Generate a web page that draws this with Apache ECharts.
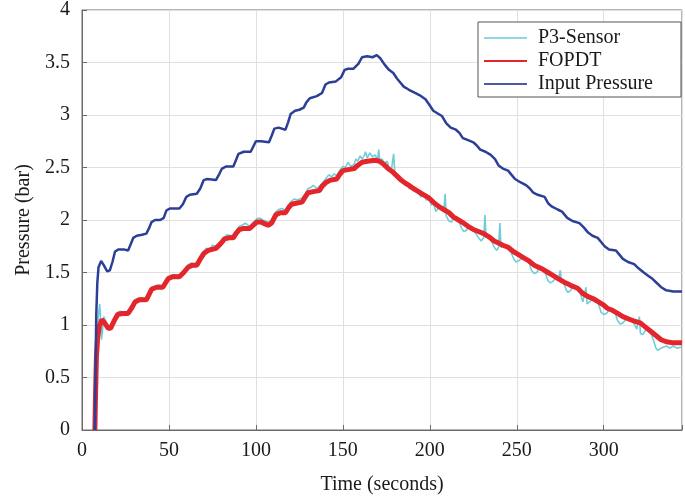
<!DOCTYPE html>
<html>
<head>
<meta charset="utf-8">
<script src="https://cdn.jsdelivr.net/npm/echarts@6/dist/echarts.min.js"></script>
<style>html,body{margin:0;padding:0;background:#fff}#c{width:685px;height:500px}</style>
</head>
<body>
<div id="c"></div>
<script>
// Time (s) / pressure (bar) readings from the reference
const inputT = [7.4,7.8,8.2,8.8,9.5,11,12.5,14.5,16,17.5,19,21,24,26.5,28,29.5,31.5,34.5,37,38.5,40,42,45,47,48.5,50.5,53,56,58,60,62,66,68,70,72,77,79,80.5,83,87,88.5,90,93,97,98.5,100,103,107.5,109,110.6,113,117,118.5,120,122.5,125,127.5,129,131,135,138,140,142,146,149,151,153,156,159,161,164,167,169.5,171.5,174,176.5,179,181,183,185,188,191.5,194,197.5,200,202,205,207,209.5,212,215,217,219,222,225,227,229,232,235,237.5,239.5,242,245,247,249,252,255.5,257.5,259.5,262,266,268,270,273.5,276,279,282,286,288.5,291,293.5,296.5,298.5,300.5,303,307,309,311,314,317.5,320,323,325.5,328,330.5,333,336,340,345];
const inputV = [0,0.6,1.1,1.4,1.55,1.61,1.57,1.51,1.52,1.6,1.70,1.72,1.72,1.71,1.77,1.83,1.85,1.86,1.87,1.92,1.98,2.0,2.0,2.02,2.09,2.11,2.11,2.11,2.15,2.22,2.24,2.25,2.30,2.38,2.39,2.38,2.44,2.49,2.51,2.51,2.57,2.63,2.65,2.65,2.70,2.75,2.75,2.74,2.80,2.87,2.88,2.86,2.93,3.01,3.04,3.05,3.07,3.12,3.16,3.18,3.21,3.29,3.31,3.32,3.36,3.43,3.44,3.44,3.49,3.55,3.56,3.55,3.57,3.54,3.48,3.43,3.40,3.35,3.31,3.27,3.24,3.21,3.19,3.15,3.09,3.04,3.01,2.99,2.92,2.88,2.86,2.83,2.78,2.76,2.74,2.71,2.67,2.65,2.62,2.58,2.52,2.49,2.47,2.43,2.39,2.36,2.33,2.30,2.26,2.24,2.22,2.16,2.13,2.10,2.08,2.02,1.99,1.97,1.93,1.88,1.85,1.83,1.79,1.75,1.72,1.71,1.67,1.63,1.60,1.58,1.54,1.50,1.47,1.44,1.40,1.36,1.33,1.32,1.32];

const fopdtT = [7.4,7.8,8.3,9,10,11.4,13,15,16.5,18.5,20.5,23,26.5,28.5,30.5,33,37,38.5,40,43,46.5,48,49.5,52,56,58.5,61,63.5,66,67.7,70,72.5,77,79.5,82,84.5,87,88.5,90.5,93,96.5,98.5,100.5,103,107,109,111.5,114,117,118.5,120.5,123,126.5,128,130,133,136.5,138,140.5,143,146.5,148,150,153,156.5,158.5,161,164,168.5,171,173.5,176,178.5,181,183.5,186,188,190.5,193.5,196.5,199.5,202,205,208,211,213.5,216.5,219.5,222,225,228,231,234,237,239.5,242,245,248,251,254,257,260,262.5,265,268,271,274,277,279.5,282,285,288,291,294,297,300,302,305,308,311,314,317,321,324,327,330,333,336,340,345];
const fopdtV = [0,0.35,0.7,0.88,0.99,1.05,1.02,0.97,0.97,1.04,1.10,1.11,1.11,1.16,1.22,1.24,1.24,1.29,1.34,1.36,1.36,1.40,1.44,1.46,1.46,1.50,1.55,1.57,1.57,1.62,1.68,1.71,1.73,1.77,1.82,1.83,1.83,1.87,1.91,1.92,1.92,1.95,1.98,1.98,1.95,1.97,2.05,2.07,2.07,2.11,2.15,2.16,2.17,2.21,2.26,2.27,2.28,2.32,2.36,2.38,2.39,2.43,2.47,2.48,2.49,2.52,2.55,2.56,2.57,2.56,2.53,2.49,2.46,2.42,2.38,2.35,2.33,2.30,2.27,2.24,2.21,2.17,2.13,2.10,2.07,2.03,2.00,1.97,1.94,1.91,1.89,1.87,1.84,1.80,1.78,1.76,1.74,1.70,1.67,1.64,1.61,1.57,1.55,1.53,1.50,1.47,1.44,1.41,1.39,1.37,1.35,1.30,1.27,1.25,1.22,1.19,1.16,1.14,1.11,1.08,1.06,1.04,1.02,0.98,0.94,0.90,0.86,0.84,0.83,0.83];

const sensorT = [7.4,7.8,8.3,8.8,9.6,10.2,10.7,11.2,11.8,12.5,13.3,14.5,15.5,16.5,18.5,20.5,22,24,26.5,28.5,30.5,32,34,36.5,38.5,40,42,44,46.5,48,49.5,51,53,56,58.5,61,62.5,64.5,66,67.7,70,71.5,73.5,75,77,79.5,82,83.5,85.5,87,88.5,90.5,92,94,96.5,98.5,100.5,102,104,107,109,111.5,113,115,117,118.5,120.5,122,124,126.5,128,130,131.5,133,135,136.5,138,140.5,142,143.5,145,146.5,148,150,151.5,153,154.5,156.5,157.5,158.5,160,161,162.5,163,164,165.5,167,168.5,170,170.6,171.2,172.5,174,175.5,176.5,178,179.2,179.8,181,182.5,183.5,185,186,187.5,188,190.5,192,193.5,195,196.5,198,199.5,201,202,203.5,205,206.5,208,208.8,209.4,211,212.5,213.5,215,216.5,218,219.5,221,222,223.5,225,226.5,228,229.5,231,231.7,232.3,234,235.5,237,238.5,239.5,240.3,240.9,242,243.5,245,246.5,248,249.5,251,252.5,254,255.5,257,258.5,260,261.5,262.5,264,265,266.5,268,269.5,271,272.5,274,275,275.6,277,278.5,279.5,281,282,283.5,285,286.5,288,289.8,290.4,291,292.5,294,295.5,297,298.5,300,301.5,303,305,306.5,308,309.5,311,312.5,314,315,317,319,320.5,321.1,322.5,324,325.5,327,328.5,330,331,333,334.5,336,338,340,342,345];
const sensorV = [0,0.4,0.75,0.95,1.12,1.20,1.05,0.86,0.95,1.08,1.09,1.00,0.98,0.99,1.06,1.12,1.13,1.12,1.13,1.18,1.24,1.25,1.26,1.25,1.31,1.36,1.37,1.38,1.37,1.42,1.46,1.47,1.48,1.47,1.52,1.57,1.59,1.58,1.59,1.64,1.70,1.73,1.72,1.76,1.75,1.79,1.84,1.86,1.85,1.86,1.89,1.94,1.95,1.97,1.94,1.98,2.01,2.02,2.00,1.98,2.00,2.08,2.10,2.11,2.09,2.14,2.18,2.20,2.19,2.21,2.24,2.30,2.31,2.33,2.30,2.32,2.35,2.40,2.43,2.41,2.44,2.42,2.47,2.51,2.50,2.55,2.51,2.53,2.58,2.56,2.61,2.58,2.62,2.65,2.59,2.64,2.60,2.62,2.58,2.67,2.57,2.58,2.54,2.56,2.50,2.49,2.63,2.47,2.43,2.42,2.36,2.38,2.33,2.35,2.30,2.29,2.27,2.25,2.22,2.24,2.19,2.20,2.14,2.16,2.08,2.12,2.10,2.08,2.25,2.04,1.99,1.98,2.02,2.02,2.00,1.93,1.89,1.90,1.93,1.92,1.90,1.87,1.83,1.80,1.83,2.05,1.84,1.84,1.80,1.74,1.71,1.74,1.97,1.74,1.75,1.76,1.73,1.70,1.64,1.60,1.61,1.63,1.65,1.62,1.60,1.52,1.49,1.50,1.53,1.55,1.52,1.49,1.42,1.40,1.42,1.45,1.44,1.52,1.43,1.40,1.33,1.31,1.33,1.36,1.37,1.34,1.30,1.22,1.36,1.20,1.19,1.23,1.25,1.24,1.20,1.12,1.10,1.11,1.14,1.15,1.12,1.04,1.01,1.02,1.05,1.07,1.05,1.03,0.96,1.08,0.92,0.91,0.95,0.97,0.93,0.86,0.78,0.76,0.78,0.79,0.80,0.78,0.80,0.78,0.79];

const xTicks = [0,50,100,150,200,250,300];
const seriesNames = ['P3-Sensor','FOPDT','Input Pressure'];

function pairs(t, v){ return t.map((x,i)=>[x, v[i]]); }

const font = 'Liberation Serif, Times New Roman, serif';
const chart = echarts.init(document.getElementById('c'), null, {renderer:'canvas'});
chart.setOption({
  animation:false,
  backgroundColor:'#fff',
  grid:{left:82, right:-1, top:9, bottom:65, show:true, borderColor:'#6b6b6b', borderWidth:1},
  legend:{
    orient:'vertical', left:478, top:22,
    padding:[6,28,3,6], itemGap:3,
    itemWidth:43, itemHeight:2, icon:'rect',
    backgroundColor:'#fff', borderColor:'#555', borderWidth:1,
    textStyle:{fontFamily:font, fontSize:20, color:'#1a1a1a', padding:[0,0,0,6]},
    data:seriesNames
  },
  xAxis:{
    type:'value', min:0, max:345, interval:50,
    name:'Time (seconds)', nameLocation:'middle', nameGap:45,
    nameTextStyle:{fontFamily:font, fontSize:20, color:'#1a1a1a'},
    axisLine:{lineStyle:{color:'#6b6b6b'}},
    axisTick:{inside:true, length:5, lineStyle:{color:'#6b6b6b'}},
    axisLabel:{fontFamily:font, fontSize:20, color:'#1a1a1a', margin:11,
      formatter:v => xTicks.indexOf(v) >= 0 ? String(v) : ''},
    splitLine:{show:true, lineStyle:{color:'#e0e0e0', width:1}}
  },
  yAxis:{
    type:'value', min:0, max:4, interval:0.5,
    name:'Pressure (bar)', nameLocation:'middle', nameGap:45,
    nameTextStyle:{fontFamily:font, fontSize:20, color:'#1a1a1a'},
    axisLine:{show:true, lineStyle:{color:'#6b6b6b'}},
    axisTick:{inside:true, length:5, lineStyle:{color:'#6b6b6b'}},
    axisLabel:{fontFamily:font, fontSize:20, color:'#1a1a1a', margin:12},
    splitLine:{show:true, lineStyle:{color:'#e0e0e0', width:1}}
  },
  series:[
    {name:seriesNames[0], type:'line', data:pairs(sensorT, sensorV), symbol:'none',
     lineStyle:{color:'#6fcdd8', width:1.6}, itemStyle:{color:'#8fd8e0'}, z:2},
    {name:seriesNames[1], type:'line', data:pairs(fopdtT, fopdtV), symbol:'none',
     lineStyle:{color:'#e4262c', width:5}, itemStyle:{color:'#e4262c'}, z:3},
    {name:seriesNames[2], type:'line', data:pairs(inputT, inputV), symbol:'none',
     lineStyle:{color:'#2c3f96', width:2.5}, itemStyle:{color:'#4a5aa6'}, z:4}
  ]
});
</script>
</body>
</html>
